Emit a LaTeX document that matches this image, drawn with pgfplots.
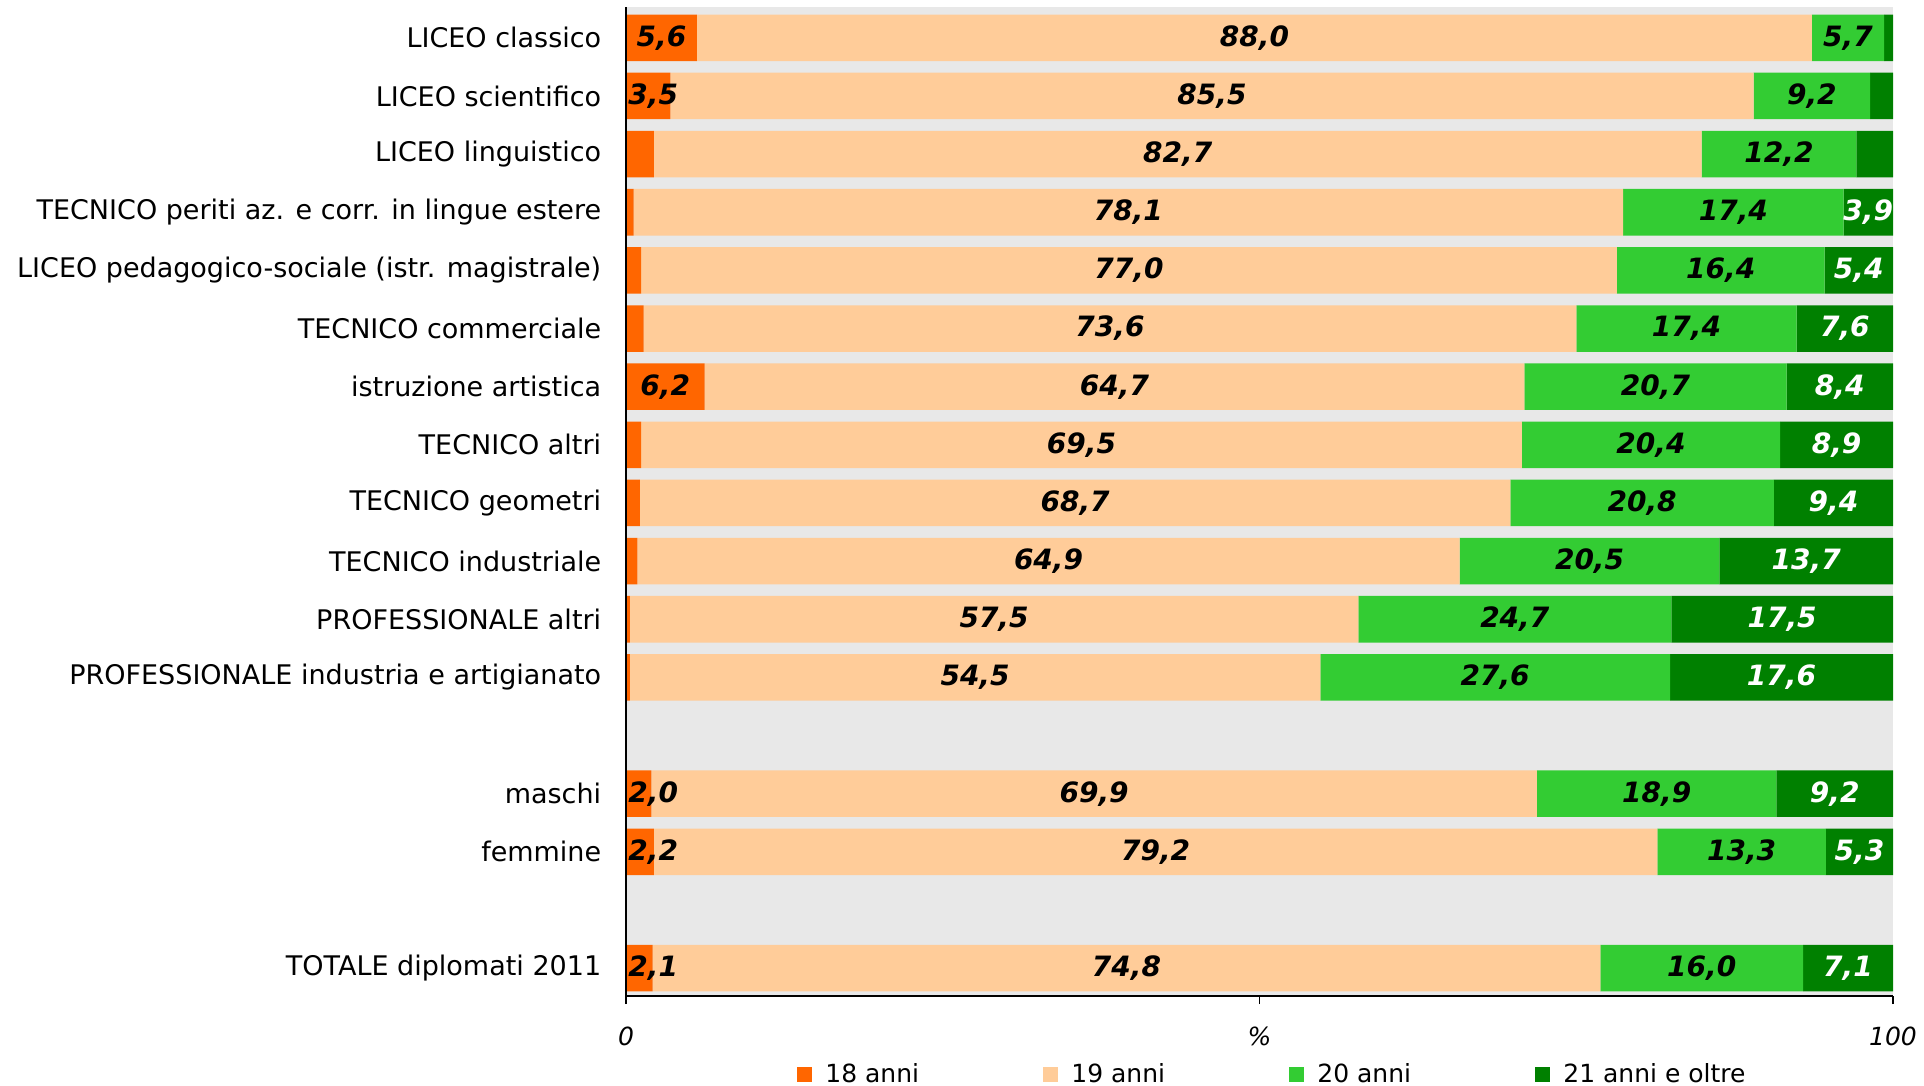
\documentclass[border=0pt]{standalone}
\usepackage{pgfplots}
\pgfplotsset{compat=1.18}
\usepackage{pgfplotstable}
\usepackage{fontspec}
\setmainfont{DejaVu Sans}

\definecolor{c18}{HTML}{FF6600}
\definecolor{c19}{HTML}{FFCC99}
\definecolor{c20}{HTML}{33CC33}
\definecolor{c21}{HTML}{008000}
\definecolor{bg}{HTML}{E8E8E8}

\pgfplotstableread{
y  a18 a19  a20  a21  l18 l21
0  5.6 88.0 5.7  0.7  5,6 {}
1  3.5 85.5 9.2  1.8  3,5 {}
2  2.2 82.7 12.2 2.9  {}  {}
3  0.6 78.1 17.4 3.9  {}  3,9
4  1.2 77.0 16.4 5.4  {}  5,4
5  1.4 73.6 17.4 7.6  {}  7,6
6  6.2 64.7 20.7 8.4  6,2 8,4
7  1.2 69.5 20.4 8.9  {}  8,9
8  1.1 68.7 20.8 9.4  {}  9,4
9  0.9 64.9 20.5 13.7 {}  13,7
10 0.3 57.5 24.7 17.5 {}  17,5
11 0.3 54.5 27.6 17.6 {}  17,6
13 2.0 69.9 18.9 9.2  2,0 9,2
14 2.2 79.2 13.3 5.3  2,2 5,3
16 2.1 74.8 16.0 7.1  2,1 7,1
}\data

\begin{document}
\begin{tikzpicture}
\useasboundingbox (0,0) rectangle (962pt,543pt);
\begin{axis}[
  at={(313pt,45pt)}, anchor=south west,
  scale only axis, width=633.5pt, height=494.5pt,
  xbar stacked, bar width=0.8,
  xmin=0, xmax=100, ymin=-0.53, ymax=16.48, y dir=reverse,
  axis x line*=bottom, axis y line*=left,
  axis line style={black, line width=1.1pt},
  axis background/.style={fill=bg},
  axis on top,
  xtick={0,50,100}, xticklabels={0,\%,100},
  xticklabel style={font=\itshape\fontsize{12.5}{12.5}\selectfont, yshift=-8pt},
  tick align=outside, major tick length=4pt,
  x tick style={black, line width=0.8pt},
  ytick={0,1,2,3,4,5,6,7,8,9,10,11,13,14,16},
  yticklabels={{LICEO classico},{LICEO scientifico},{LICEO linguistico},{TECNICO periti az. e corr. in lingue estere},{LICEO pedagogico-sociale (istr. magistrale)},{TECNICO commerciale},{istruzione artistica},{TECNICO altri},{TECNICO geometri},{TECNICO industriale},{PROFESSIONALE altri},{PROFESSIONALE industria e artigianato},{maschi},{femmine},{TOTALE diplomati 2011}},
  y tick style={draw=none},
  yticklabel style={font=\fontsize{13.5}{13.5}\selectfont, anchor=east, inner sep=0pt, xshift=-8.2pt},
  legend columns=4,
  legend style={at={(0.135,-0.079)}, anchor=west, draw=none, fill=none, inner sep=0pt,
    nodes={inner sep=0pt}, font=\fontsize{12.5}{12.5}\selectfont,
    /tikz/every odd column/.append style={column sep=6.5pt}},
  legend image code/.code={\fill[#1] (0pt,-3.75pt) rectangle (7.5pt,3.75pt);},
]
\addplot[fill=c18, draw=none, nodes near coords, point meta=explicit symbolic,
  visualization depends on={\thisrow{a18} \as \val},
  every node near coord/.style={anchor=center, black, font=\bfseries\itshape\fontsize{14}{14}\selectfont,
    xshift={(max(\val/2,2.15)-\val/2)*6.335pt}}]
  table[x=a18, y=y, meta=l18] {\data};
\addplot[fill=c19, draw=none, nodes near coords, point meta=explicit,
  nodes near coords={\pgfmathprintnumber[fixed,fixed zerofill,precision=1,use comma,assume math mode=true]{\pgfplotspointmeta}},
  every node near coord/.style={anchor=center, black, font=\bfseries\itshape\fontsize{14}{14}\selectfont}]
  table[x=a19, y=y, meta=a19] {\data};
\addplot[fill=c20, draw=none, nodes near coords, point meta=explicit,
  nodes near coords={\pgfmathprintnumber[fixed,fixed zerofill,precision=1,use comma,assume math mode=true]{\pgfplotspointmeta}},
  every node near coord/.style={anchor=center, black, font=\bfseries\itshape\fontsize{14}{14}\selectfont}]
  table[x=a20, y=y, meta=a20] {\data};
\addplot[fill=c21, draw=none, nodes near coords, point meta=explicit symbolic,
  every node near coord/.style={anchor=center, white, font=\bfseries\itshape\fontsize{14}{14}\selectfont}]
  table[x=a21, y=y, meta=l21] {\data};
\legend{\makebox[109pt][l]{18 anni},\makebox[109pt][l]{19 anni},\makebox[109pt][l]{20 anni},\makebox[109pt][l]{21 anni e oltre}}
\end{axis}
\end{tikzpicture}
\end{document}
